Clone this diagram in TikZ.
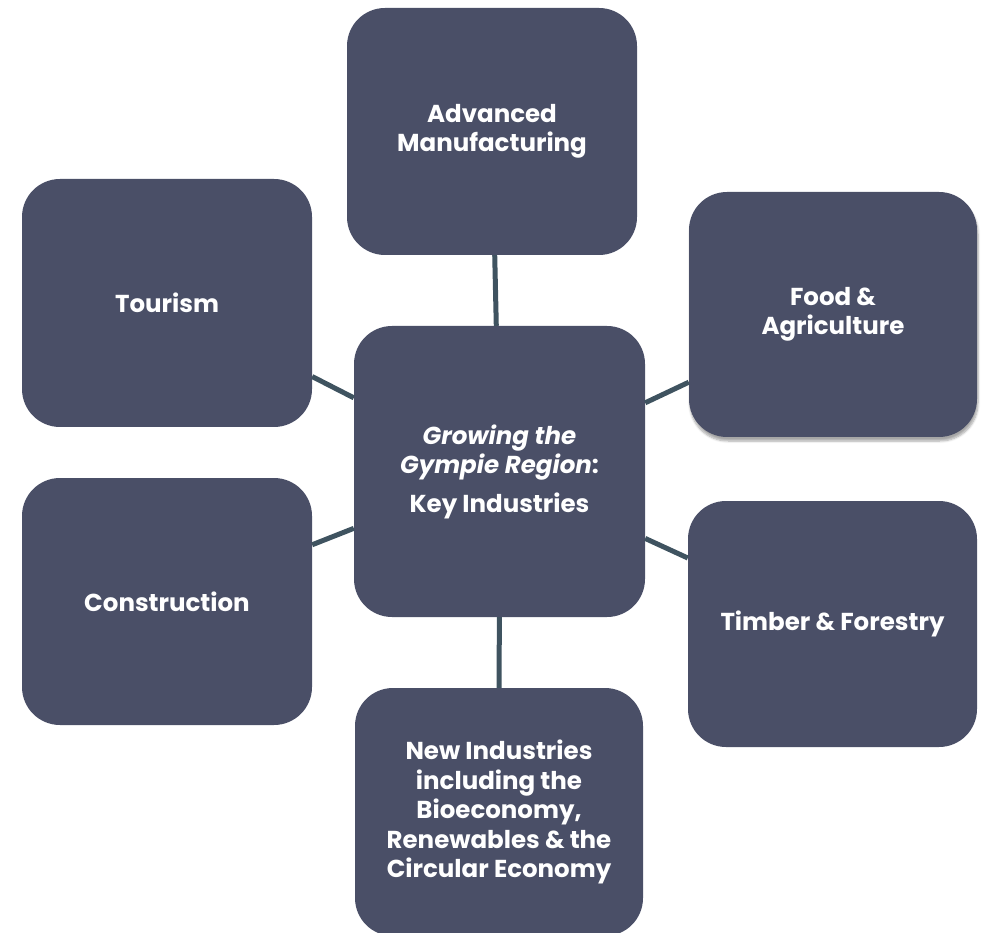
\documentclass[tikz,border=0pt]{standalone}
\usepackage{fontspec}
\setmainfont{Poppins}
\usetikzlibrary{shadows.blur}
\definecolor{boxfill}{HTML}{4A4F67}
\definecolor{linkcol}{HTML}{3F5360}
\begin{document}
\begin{tikzpicture}[x=1pt,y=-1pt,
  ibox/.style={rectangle, rounded corners=38pt, fill=boxfill, inner sep=0pt,
    text=white, font=\fontsize{24.5}{29.5}\selectfont\bfseries, align=center},
  link/.style={draw=linkcol, line width=5pt}]
\useasboundingbox (0,0) rectangle (986,933);
\clip (0,0) rectangle (986,933);
\node[ibox, minimum width=291pt, minimum height=291pt] (center) at (499.5,471.5)
  {\itshape Growing the\\\itshape Gympie Region\upshape:\\[9pt]Key Industries};
\node[ibox, minimum width=290pt, minimum height=247pt] (adv) at (492,131.5) {Advanced\\Manufacturing};
\node[ibox, minimum width=290pt, minimum height=248pt] (tour) at (167,303) {Tourism};
\node[ibox, minimum width=288pt, minimum height=245pt,
  blur shadow={shadow xshift=1pt, shadow yshift=-4pt, shadow blur steps=6, shadow opacity=35}]
  (food) at (833,314.5) {Food \&\\Agriculture};
\node[ibox, minimum width=290pt, minimum height=247pt] (cons) at (167,601.5) {Construction};
\node[ibox, minimum width=289pt, minimum height=246pt] (timb) at (832.5,624) {Timber \& Forestry};
\node[ibox, minimum width=288pt, minimum height=248pt] (newi) at (499,812)
  {New Industries\\including the\\Bioeconomy,\\Renewables \& the\\Circular Economy};
\draw[link] (center) -- (adv);
\draw[link] (center) -- (tour);
\draw[link] (center) -- (food);
\draw[link] (center) -- (cons);
\draw[link] (center) -- (timb);
\draw[link] (center) -- (newi);
\end{tikzpicture}
\end{document}
